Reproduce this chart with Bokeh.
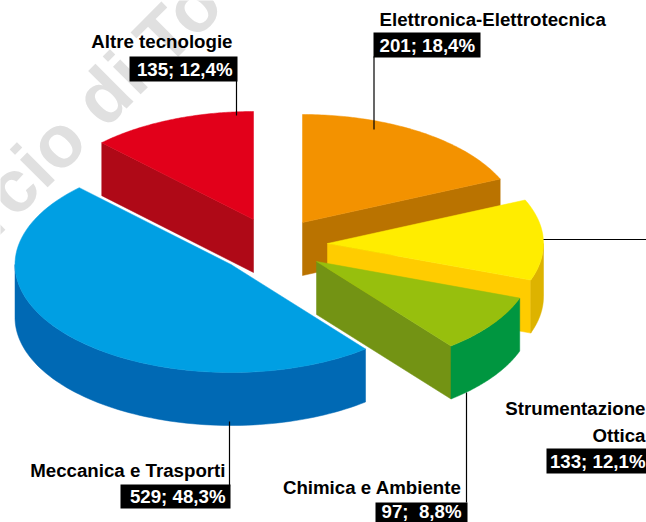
import numpy as np
from bokeh.plotting import figure
from bokeh.models import Range1d
from bokeh.core.properties import value
from bokeh.embed import file_html
from bokeh.resources import INLINE

categories = ["Elettronica-Elettrotecnica", "Strumentazione Ottica", "Chimica e Ambiente",
              "Meccanica e Trasporti", "Altre tecnologie"]
counts = [201, 133, 97, 529, 135]
percents = [18.4, 12.1, 8.8, 48.3, 12.4]
value_labels = ["201; 18,4%", "133; 12,1%", "97;\u00a0 8,8%", "529; 48,3%", "135; 12,4%"]

# layout of the exploded, tilted pie (pixels)
RX, RY, DEPTH = 216, 108, 53
apex = [(302, 222), (327, 243), (316, 261), (230.5, 264), (253, 219)]
top_col = ["#F39200", "#FFED00", "#97BF0D", "#009FE3", "#E2001A"]
side_col = ["#BA7300", "#FFCC00", "#739314", None, "#AF0917"]
rim_col = [None, "#DDB300", "#009640", "#0069B4", None]

W, H = 646, 522
p = figure(width=W, height=H, output_backend="svg", toolbar_location=None,
           x_range=Range1d(0, W), y_range=Range1d(H, 0), min_border=0,
           margin=(0, 0, 0, 0), background_fill_color="white", border_fill_color="white")
p.axis.visible = False
p.grid.visible = False
p.outline_line_color = None

FONT = value("Liberation Sans")

# watermark
p.text([-24], [222], text=["rcio di To"], angle=[np.radians(45)], text_font=FONT,
       text_font_style="bold", text_font_size="74px", text_color="#E0E0E0",
       text_baseline="alphabetic", text_align="left")

def pt(i, deg):
    t = np.radians(deg)
    return apex[i][0] + RX * np.sin(t), apex[i][1] - RY * np.cos(t)

def arc(i, a, b):
    ts = np.linspace(a, b, 80)
    x, y = pt(i, ts)
    return x, y

bounds = np.concatenate([[0], np.cumsum(percents) * 3.6])
bounds[-1] = 360.0
order = [4, 0, 1, 2, 3]
for i in order:
    a, b = bounds[i], bounds[i + 1]
    cx, cy = apex[i]
    # wall along the radius that faces the viewer
    if side_col[i]:
        ex, ey = pt(i, a if a >= 180 else b)
        p.patch([cx, ex, ex, cx], [cy, ey, ey + DEPTH, cy + DEPTH],
                fill_color=side_col[i], line_color=side_col[i], line_width=0.5)
    # outer rim (only the front half shows)
    if rim_col[i]:
        ra, rb = max(a, 90), min(b, 270)
        x, y = arc(i, ra, rb)
        p.patch(np.r_[x, x[::-1]], np.r_[y, y[::-1] + DEPTH],
                fill_color=rim_col[i], line_color=rim_col[i], line_width=0.5)
    x, y = arc(i, a, b)
    p.patch(np.r_[cx, x], np.r_[cy, y], fill_color=top_col[i], line_color=top_col[i], line_width=0.5)

# leader lines
for xs, ys in [([236, 236], [80, 115]), ([373.5, 373.5], [56, 129]), ([543, 646], [239, 239]),
               ([466, 466], [392, 502]), ([229, 229], [421, 486])]:
    p.line(xs, ys, line_color="#000000", line_width=1.2)

# value boxes
boxes = [(373, 480, 32, 57), (546, 646, 448, 473), (375, 467, 502, 522), (120, 230, 484, 508), (129, 237, 56, 81)]
for l, r, t, b in boxes:
    p.quad(left=[l], right=[r], top=[t], bottom=[b], fill_color="black", line_color=None)

def txt(x, y, s, color="black", align="right"):
    p.text([x], [y], text=[s], text_font=FONT, text_font_style="bold", text_font_size="18.7px",
           text_color=color, text_align=align, text_baseline="middle")

txt(379, 19, categories[0], align="left")
txt(645, 408, "Strumentazione")
txt(645, 435, "Ottica")
txt(461, 487, categories[2])
txt(225, 470, categories[3])
txt(232, 41, categories[4])

txt(379, 45, value_labels[0], "white", "left")
txt(645, 461, value_labels[1], "white")
txt(461, 511, value_labels[2], "white")
txt(225, 496, value_labels[3], "white")
txt(232, 69, value_labels[4], "white")

open("out.html", "w").write(file_html(p, INLINE))
